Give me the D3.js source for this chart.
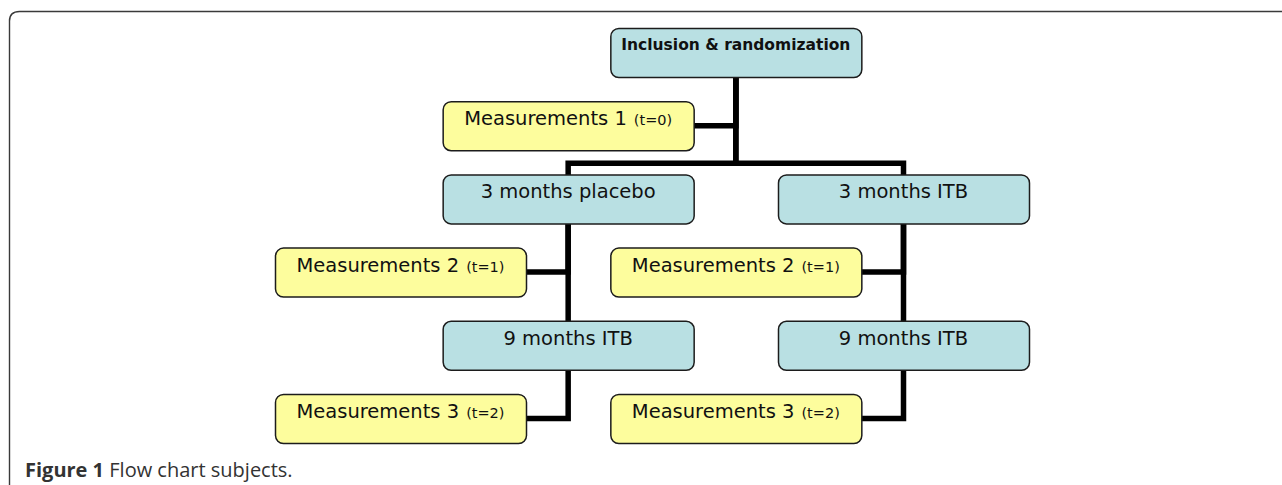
<!DOCTYPE html>
<html>
<head>
<meta charset="utf-8">
<script src="https://cdn.jsdelivr.net/npm/d3@7"></script>
<style>
  html, body { margin: 0; padding: 0; background: #fff; }
  svg { display: block; }
</style>
</head>
<body>
<div id="chart"></div>
<script>
// flow chart nodes, one entry per box
const labels = ['Inclusion & randomization', 'Measurements 1', '3 months placebo', '3 months ITB',
  'Measurements 2', 'Measurements 2', '9 months ITB', '9 months ITB', 'Measurements 3', 'Measurements 3'];
const notes = ['', '(t=0)', '', '', '(t=1)', '(t=1)', '', '', '(t=2)', '(t=2)'];
const kinds = ['phase', 'measure', 'phase', 'phase', 'measure', 'measure', 'phase', 'phase', 'measure', 'measure'];
const cols = [2, 1, 1, 3, 0, 2, 1, 3, 0, 2];
const rows = [0, 1, 2, 2, 3, 3, 4, 4, 5, 5];
// parent -> child connections
const links = [[0, 1], [0, 2], [0, 3], [2, 4], [2, 6], [3, 5], [3, 7], [6, 8], [7, 9]];

const width = 1282;
const height = 485;
const boxW = 251;
const boxH = 49;

const svg = d3.select('#chart')
  .append('svg')
  .attr('width', width)
  .attr('height', height);

// outer frame (open to the right and bottom)
svg.append('path')
  .attr('d', 'M9.5,485 V21 Q9.5,11.5 19.5,11.5 H1282')
  .attr('fill', 'none')
  .attr('stroke', '#3a3a3a')
  .attr('stroke-width', 1.4);

const x = d3.scalePoint()
  .domain(d3.range(4))
  .range([400.5, 903.5]);

const y = d3.scalePoint()
  .domain(d3.range(6))
  .range([28, 394]);

const nodes = labels.map((label, i) => ({
  label, note: notes[i], kind: kinds[i], col: cols[i], row: rows[i]
}));

function linkPath([s, t]) {
  const a = nodes[s], b = nodes[t];
  const sx = x(a.col), sy = y(a.row) + boxH;
  const tx = x(b.col), ty = y(b.row);
  if (b.kind === 'measure') {
    return `M${sx},${sy} V${ty + boxH / 2} H${tx + boxW / 2}`;
  }
  if (a.col === b.col) {
    return `M${sx},${sy} V${ty}`;
  }
  const gap = (ty + y(b.row - 1) + boxH) / 2 + 1;
  return `M${sx},${sy} V${gap} H${tx} V${ty}`;
}

svg.append('g')
  .selectAll('path')
  .data(links)
  .enter()
  .append('path')
  .attr('d', linkPath)
  .attr('fill', 'none')
  .attr('stroke', '#000')
  .attr('stroke-width', 5.5)
  .attr('stroke-linecap', 'square');

const box = svg.append('g')
  .selectAll('g')
  .data(nodes)
  .enter()
  .append('g')
  .attr('transform', d => `translate(${x(d.col) - boxW / 2}, ${y(d.row)})`);

box.append('rect')
  .attr('x', 0.5)
  .attr('y', 0.5)
  .attr('width', boxW)
  .attr('height', boxH)
  .attr('rx', 8)
  .attr('fill', d => d.kind === 'measure' ? '#fdfd9d' : '#b9e0e3')
  .attr('stroke', '#1c1c1c')
  .attr('stroke-width', 1.5);

const txt = box.append('text')
  .attr('x', boxW / 2)
  .attr('y', (d, i) => i === 0 ? 22 : 24)
  .attr('text-anchor', 'middle')
  .attr('font-family', 'DejaVu Sans, sans-serif')
  .attr('fill', '#111');

txt.append('tspan')
  .attr('font-size', (d, i) => i === 0 ? 15.5 : 19.5)
  .attr('font-weight', (d, i) => i === 0 ? 'bold' : 'normal')
  .text(d => d.label);

txt.filter(d => d.note)
  .append('tspan')
  .attr('dx', 7)
  .attr('font-size', 14.5)
  .text(d => d.note);

// caption
const cap = svg.append('text')
  .attr('x', 25)
  .attr('y', 477)
  .attr('font-family', 'Open Sans, sans-serif')
  .attr('font-size', 20)
  .attr('fill', '#333');
cap.append('tspan').attr('font-weight', 'bold').text('Figure 1');
cap.append('tspan').text(' Flow chart subjects.');
</script>
</body>
</html>
